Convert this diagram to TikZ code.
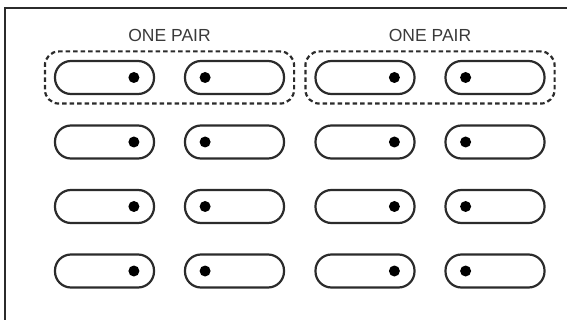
\documentclass[tikz,border=0pt]{standalone}
\usepackage{fontspec}
\setmainfont{Liberation Sans}
\usepackage{tikz}
\usetikzlibrary{positioning, fit}
\definecolor{slotline}{HTML}{2B2B2B}
\definecolor{labelgray}{HTML}{3A3A3A}

\begin{document}
\begin{tikzpicture}[x=1pt, y=-1pt,
  slot/.style={draw=slotline, line width=2.2pt, rounded corners=16pt, minimum width=99pt, minimum height=33pt, inner sep=0pt},
  dot/.style={circle, fill=black, minimum size=11pt, inner sep=0pt},
  pairbox/.style={draw=slotline, line width=2.2pt, dash pattern=on 4.5pt off 3pt, rounded corners=14pt, inner xsep=9pt, inner ysep=8.5pt},
  pairlabel/.style={text=labelgray, font=\fontsize{17.5}{19}\selectfont, inner sep=0pt}
]
  \useasboundingbox (0,0) rectangle (567,320);
  \draw[line width=2.6pt, slotline] (5,320) |- (567,8);

  % four rows of slots, dots towards the middle of each pair
  \foreach \row/\y in {1/77.5, 2/142, 3/206.5, 4/271} {
    \node[slot] (a\row) at (104.5,\y) {};
    \node[slot] (b\row) at (234.5,\y) {};
    \node[slot] (c\row) at (365,\y) {};
    \node[slot] (d\row) at (495,\y) {};
    \node[dot, left=15.5pt of a\row.east] (da\row) {};
    \node[dot, right=15.5pt of b\row.west] (db\row) {};
    \node[dot, left=15.5pt of c\row.east] (dc\row) {};
    \node[dot, right=15.5pt of d\row.west] (dd\row) {};
  }

  \node[pairbox, fit=(a1)(b1)] (pairL) {};
  \node[pairbox, fit=(c1)(d1)] (pairR) {};
  \node[pairlabel, above=8pt of pairL] (labL) {ONE PAIR};
  \node[pairlabel, above=8pt of pairR] (labR) {ONE PAIR};
\end{tikzpicture}
\end{document}
